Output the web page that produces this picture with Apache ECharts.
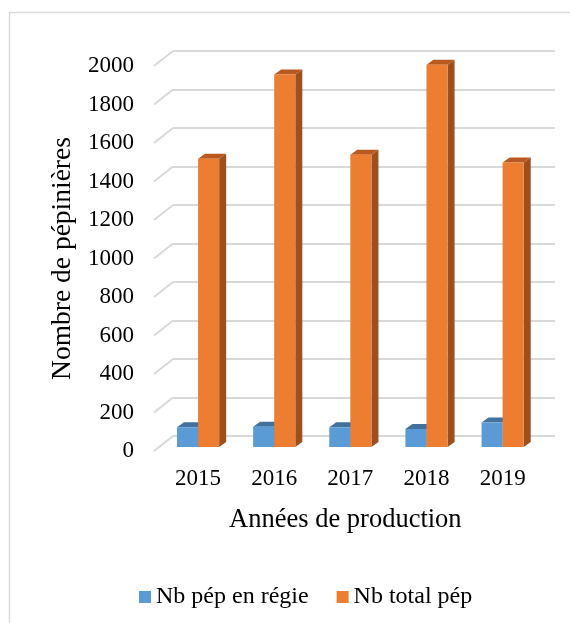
<!DOCTYPE html>
<html>
<head>
<meta charset="utf-8">
<script src="https://cdn.jsdelivr.net/npm/echarts@6/dist/echarts.min.js"></script>
<style>
html,body{margin:0;padding:0;background:#fff;}
#c{width:570px;height:623px;}
</style>
</head>
<body>
<div id="c"></div>
<script>
const years = ['2015', '2016', '2017', '2018', '2019'];
const regie = [102, 105, 102, 93, 126];
const total = [1490, 1925, 1510, 1975, 1470];
const yTicks = [0, 200, 400, 600, 800, 1000, 1200, 1400, 1600, 1800, 2000];
const seriesNames = ['Nb pép en régie', 'Nb total pép'];

const FONT = 'Liberation Serif';
const DX = 7, DY = 5;

function barRenderer(side, front, topC, sideC) {
  return function (params, api) {
    const i = api.value(0), v = api.value(1);
    const base = api.coord([i, 0]);
    const top = api.coord([i, v]);
    const band = api.size([1, 0])[0];
    const w = band * 0.277;
    const x0 = side < 0 ? base[0] - w : base[0];
    const x1 = x0 + w;
    const yt = top[1], yb = base[1];
    return {
      type: 'group',
      children: [
        { type: 'polygon', shape: { points: [[x1, yt], [x1 + DX, yt - DY], [x1 + DX, yb - DY], [x1, yb]] }, style: { fill: sideC } },
        { type: 'polygon', shape: { points: [[x0, yt], [x0 + DX, yt - DY], [x1 + DX, yt - DY], [x1, yt]] }, style: { fill: topC } },
        { type: 'rect', shape: { x: x0, y: yt, width: w, height: yb - yt }, style: { fill: front } }
      ]
    };
  };
}

const chart = echarts.init(document.getElementById('c'), null, { renderer: 'canvas' });
chart.setOption({
  backgroundColor: '#fff',
  animation: false,
  textStyle: { fontFamily: FONT },
  graphic: [
    { type: 'rect', shape: { x: 9.5, y: 12.5, width: 600, height: 700 }, style: { fill: 'none', stroke: '#d9d9d9', lineWidth: 1.5 }, z: -10 }
  ],
  legend: {
    data: seriesNames,
    left: 134, top: 580,
    icon: 'rect', itemWidth: 12, itemHeight: 12, itemGap: 28,
    formatter: '{t|{name}}',
    textStyle: {
      fontFamily: FONT, fontSize: 24, color: '#000',
      rich: { t: { fontFamily: FONT, fontSize: 24, color: '#000' } }
    }
  },
  grid: [
    { left: 154, right: 29, top: 66, bottom: 172 },   // front (labels)
    { left: 160, right: 29.3, top: 60, bottom: 176 }, // bars
    { left: 173, right: 15, top: 51, bottom: 187 }    // back wall
  ],
  xAxis: [
    { gridIndex: 0, type: 'value', min: 0, max: 1, show: false },
    {
      gridIndex: 1, type: 'category', data: years,
      axisLine: { show: false }, axisTick: { show: false }, splitLine: { show: false },
      axisLabel: { fontFamily: FONT, fontSize: 23, color: '#000', margin: 20 },
      name: 'Années de production', nameLocation: 'middle', nameGap: 60,
      nameTextStyle: { fontFamily: FONT, fontSize: 26.5, color: '#000', padding: [0, 10, 0, 0] }
    },
    { gridIndex: 2, type: 'value', min: 0, max: 1, show: false }
  ],
  yAxis: [
    {
      gridIndex: 0, type: 'value', min: 0, max: 2000, interval: 200,
      axisLine: { show: false }, axisTick: { show: false }, splitLine: { show: false },
      axisLabel: { fontFamily: FONT, fontSize: 23, color: '#000', margin: 20, formatter: v => String(v) },
      name: 'Nombre de pépinières', nameLocation: 'middle', nameGap: 76,
      nameTextStyle: { fontFamily: FONT, fontSize: 27.5, color: '#000' }
    },
    { gridIndex: 1, type: 'value', min: 0, max: 2000, interval: 200, show: false },
    {
      gridIndex: 2, type: 'value', min: 0, max: 2000, interval: 200,
      axisLine: { show: false }, axisTick: { show: false }, axisLabel: { show: false },
      splitLine: { show: true, lineStyle: { color: '#d9d9d9', width: 2 } }
    }
  ],
  series: [
    {
      type: 'custom', name: 'diag', xAxisIndex: 2, yAxisIndex: 2, silent: true,
      data: yTicks.map(v => [0, v]),
      renderItem: function (params, api) {
        const p = api.coord([0, api.value(1)]);
        return { type: 'line', shape: { x1: p[0] - 19, y1: p[1] + 15, x2: p[0], y2: p[1] }, style: { stroke: '#d9d9d9', lineWidth: 2 } };
      },
      z: 1
    },
    {
      type: 'custom', name: seriesNames[0], xAxisIndex: 1, yAxisIndex: 1,
      itemStyle: { color: '#5B9BD5' },
      data: regie.map((v, i) => [i, v]),
      renderItem: barRenderer(-1, '#5B9BD5', '#41719C', '#3F6F9A'),
      z: 3
    },
    {
      type: 'custom', name: seriesNames[1], xAxisIndex: 1, yAxisIndex: 1,
      itemStyle: { color: '#ED7D31' },
      data: total.map((v, i) => [i, v]),
      renderItem: barRenderer(1, '#ED7D31', '#B9591F', '#9E4F1E'),
      z: 4
    }
  ]
});
</script>
</body>
</html>
